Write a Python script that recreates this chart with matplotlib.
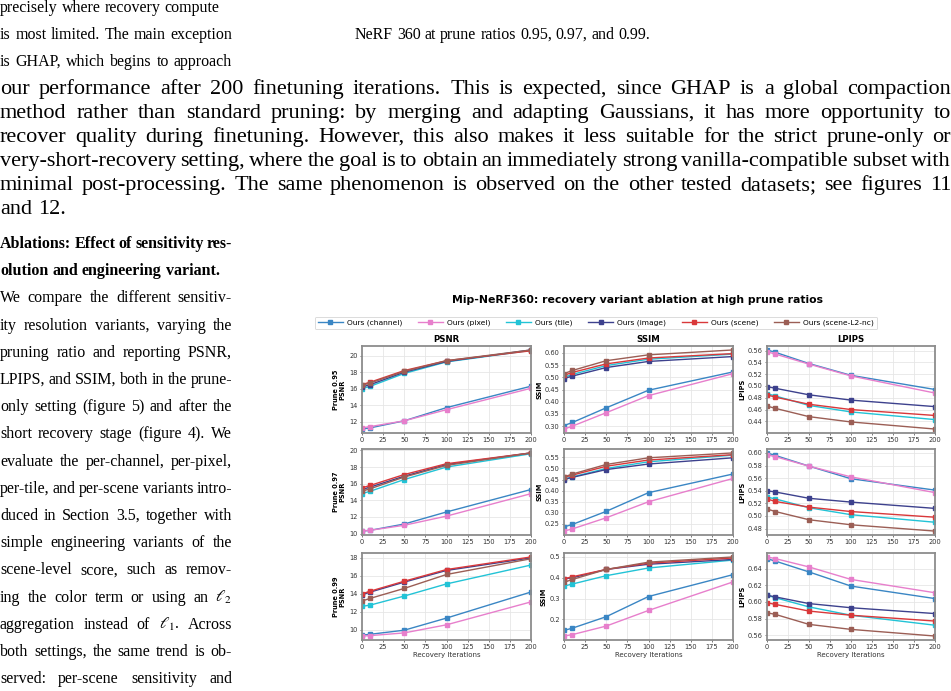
import matplotlib
matplotlib.use("Agg")
import matplotlib.pyplot as plt
from matplotlib.lines import Line2D
from matplotlib.ticker import MultipleLocator, FormatStrFormatter

W, H, DPI = 951, 691, 100

# ---------------- data ----------------
iters = [0, 10, 50, 100, 200]
variants = ["Ours (channel)", "Ours (pixel)", "Ours (tile)", "Ours (image)",
            "Ours (scene)", "Ours (scene-L2-nc)"]
prune_ratios = ["0.95", "0.97", "0.99"]
metrics = ["PSNR", "SSIM", "LPIPS"]

psnr_095 = {"Ours (channel)": [11.1, 11.25, 12.1, 13.7, 16.3],
            "Ours (pixel)": [11.25, 11.4, 12.1, 13.45, 16.05],
            "Ours (tile)": [16.0, 16.3, 17.85, 19.25, 20.65],
            "Ours (image)": [16.2, 16.5, 18.0, 19.3, 20.7],
            "Ours (scene)": [16.5, 16.8, 18.2, 19.4, 20.6],
            "Ours (scene-L2-nc)": [16.4, 16.7, 18.1, 19.4, 20.7]}
ssim_095 = {"Ours (channel)": [0.302, 0.315, 0.375, 0.447, 0.522],
            "Ours (pixel)": [0.288, 0.300, 0.355, 0.425, 0.515],
            "Ours (tile)": [0.500, 0.512, 0.548, 0.574, 0.595],
            "Ours (image)": [0.495, 0.505, 0.540, 0.565, 0.585],
            "Ours (scene)": [0.508, 0.520, 0.555, 0.579, 0.597],
            "Ours (scene-L2-nc)": [0.515, 0.528, 0.568, 0.592, 0.612]}
lpips_095 = {"Ours (channel)": [0.561, 0.557, 0.538, 0.518, 0.494],
             "Ours (pixel)": [0.558, 0.554, 0.537, 0.517, 0.488],
             "Ours (tile)": [0.487, 0.483, 0.467, 0.456, 0.443],
             "Ours (image)": [0.499, 0.496, 0.485, 0.476, 0.465],
             "Ours (scene)": [0.485, 0.481, 0.469, 0.460, 0.450],
             "Ours (scene-L2-nc)": [0.466, 0.462, 0.448, 0.439, 0.427]}

psnr_097 = {"Ours (channel)": [10.3, 10.4, 11.15, 12.6, 15.3],
            "Ours (pixel)": [10.3, 10.4, 11.0, 12.1, 14.8],
            "Ours (tile)": [14.8, 15.1, 16.5, 18.0, 19.6],
            "Ours (image)": [15.3, 15.6, 16.9, 18.3, 19.7],
            "Ours (scene)": [15.5, 15.8, 17.1, 18.4, 19.7],
            "Ours (scene-L2-nc)": [15.1, 15.4, 16.8, 18.2, 19.7]}
ssim_097 = {"Ours (channel)": [0.237, 0.248, 0.307, 0.391, 0.475],
            "Ours (pixel)": [0.218, 0.228, 0.278, 0.350, 0.455],
            "Ours (tile)": [0.452, 0.462, 0.500, 0.530, 0.560],
            "Ours (image)": [0.450, 0.460, 0.495, 0.520, 0.548],
            "Ours (scene)": [0.460, 0.470, 0.510, 0.538, 0.562],
            "Ours (scene-L2-nc)": [0.462, 0.475, 0.518, 0.548, 0.570]}
lpips_097 = {"Ours (channel)": [0.600, 0.596, 0.579, 0.559, 0.541],
             "Ours (pixel)": [0.597, 0.594, 0.579, 0.562, 0.537],
             "Ours (tile)": [0.530, 0.527, 0.513, 0.502, 0.490],
             "Ours (image)": [0.540, 0.538, 0.528, 0.522, 0.512],
             "Ours (scene)": [0.527, 0.523, 0.514, 0.507, 0.498],
             "Ours (scene-L2-nc)": [0.511, 0.507, 0.494, 0.486, 0.476]}

psnr_099 = {"Ours (channel)": [9.4, 9.5, 9.95, 11.3, 14.2],
            "Ours (pixel)": [9.3, 9.35, 9.65, 10.55, 13.1],
            "Ours (tile)": [12.6, 12.75, 13.75, 15.1, 17.2],
            "Ours (image)": [13.9, 14.2, 15.3, 16.6, 18.0],
            "Ours (scene)": [14.0, 14.3, 15.4, 16.7, 18.1],
            "Ours (scene-L2-nc)": [13.2, 13.5, 14.6, 16.15, 17.9]}
ssim_099 = {"Ours (channel)": [0.147, 0.158, 0.213, 0.310, 0.415],
            "Ours (pixel)": [0.120, 0.127, 0.168, 0.243, 0.380],
            "Ours (tile)": [0.360, 0.370, 0.410, 0.447, 0.485],
            "Ours (image)": [0.395, 0.400, 0.440, 0.465, 0.488],
            "Ours (scene)": [0.395, 0.405, 0.440, 0.470, 0.495],
            "Ours (scene-L2-nc)": [0.378, 0.392, 0.440, 0.475, 0.500]}
lpips_099 = {"Ours (channel)": [0.652, 0.649, 0.636, 0.619, 0.604],
             "Ours (pixel)": [0.654, 0.652, 0.642, 0.627, 0.611],
             "Ours (tile)": [0.608, 0.605, 0.594, 0.584, 0.572],
             "Ours (image)": [0.608, 0.606, 0.598, 0.593, 0.586],
             "Ours (scene)": [0.599, 0.597, 0.589, 0.584, 0.577],
             "Ours (scene-L2-nc)": [0.587, 0.585, 0.573, 0.567, 0.559]}

panels = [[psnr_095, ssim_095, lpips_095],
          [psnr_097, ssim_097, lpips_097],
          [psnr_099, ssim_099, lpips_099]]

suptitle = "Mip-NeRF360: recovery variant ablation at high prune ratios"

top_left_lines = ["precisely where recovery compute",
                  "is most limited. The main exception",
                  "is GHAP, which begins to approach"]
caption_line = "NeRF 360 at prune ratios 0.95, 0.97, and 0.99."
full_lines = [
    "our performance after 200 finetuning iterations. This is expected, since GHAP is a global compaction",
    "method rather than standard pruning: by merging and adapting Gaussians, it has more opportunity to",
    "recover quality during finetuning. However, this also makes it less suitable for the strict prune-only or",
    "very-short-recovery setting, where the goal is to obtain an immediately strong vanilla-compatible subset with",
    "minimal post-processing. The same phenomenon is observed on the other tested datasets; see figures 11",
    "and 12.",
]
col_lines = [
    "Ablations: Effect of sensitivity res-",
    "olution and engineering variant.",
    "We compare the different sensitiv-",
    "ity resolution variants, varying the",
    "pruning ratio and reporting PSNR,",
    "LPIPS, and SSIM, both in the prune-",
    "only setting (figure 5) and after the",
    "short recovery stage (figure 4). We",
    "evaluate the per-channel, per-pixel,",
    "per-tile, and per-scene variants intro-",
    "duced in Section 3.5, together with",
    "simple engineering variants of the",
    "scene-level score, such as remov-",
    r"ing the color term or using an $\ell_2$",
    r"aggregation instead of $\ell_1$. Across",
    "both settings, the same trend is ob-",
    "served: per-scene sensitivity and",
]

# ---------------- style ----------------
colors = {"Ours (channel)": "#3a86c4", "Ours (pixel)": "#e77fcc",
          "Ours (tile)": "#22c3d6", "Ours (image)": "#3d418d",
          "Ours (scene)": "#d9383a", "Ours (scene-L2-nc)": "#9b5e55"}
plt.rcParams["mathtext.fontset"] = "stix"
SERIF = "Liberation Serif"

fig = plt.figure(figsize=(W / DPI, H / DPI), dpi=DPI)
fig.patch.set_facecolor("white")
renderer = fig.canvas.get_renderer()


def fy(y):
    return 1 - y / H


def twidth(s, **kw):
    t = fig.text(0, 0, s, **kw)
    w = t.get_window_extent(renderer).width
    t.remove()
    return w


def put_line(line, x0, x1, ybase, justify=True, **kw):
    words = line.split(" ")
    widths = [twidth(w, **kw) for w in words]
    space = twidth("a a", **kw) - twidth("aa", **kw)
    if justify and len(words) > 1:
        gap = (x1 - x0 - sum(widths)) / (len(words) - 1)
    else:
        gap = space
    x = x0
    for w, wd in zip(words, widths):
        fig.text(x / W, fy(ybase), w, ha="left", va="baseline", **kw)
        x += wd + gap


def fit_size(lines, width, shrink=0.6, weight="normal"):
    sp = twidth("a a", fontsize=10, family=SERIF) - twidth("aa", fontsize=10, family=SERIF)
    best = 0
    for l in lines:
        words = l.split(" ")
        w = sum(twidth(x, fontsize=10, family=SERIF, weight=weight) for x in words)
        w += shrink * sp * (len(words) - 1)
        best = max(best, w)
    return 10 * width / best


full_size = fit_size(full_lines[:-1], 951, 0.7)
col_size = fit_size(col_lines[2:], 232, 0.7)

# top-left lines (wrapped column) and caption
for i, l in enumerate(top_left_lines):
    put_line(l, 0, 232, 12 + i * 27.0, justify=(i > 0), fontsize=col_size, family=SERIF)
put_line(caption_line, 355, 640, 12 + 27.0, justify=False, fontsize=col_size, family=SERIF)

for i, l in enumerate(full_lines):
    put_line(l, 0, 951, 94 + i * 24.0, justify=(i < len(full_lines) - 1),
             fontsize=full_size, family=SERIF)

CL = 27.2
for i, l in enumerate(col_lines):
    bold = i < 2
    put_line(l, 0, 232, 248 + i * CL, justify=(i != 1), fontsize=col_size,
             family=SERIF, weight="bold" if bold else "normal")

# ---------------- chart ----------------
col_x = [(362, 531), (564, 733), (767, 935)]
row_y = [(346, 433), (449, 535), (553, 640)]
ystep = [[2, 0.05, 0.02], [2, 0.05, 0.02], [2, 0.1, 0.02]]
yfmt = [["%d", "%.2f", "%.2f"], ["%d", "%.2f", "%.2f"], ["%d", "%.1f", "%.2f"]]

fig.text(637 / W, fy(300), suptitle, ha="center", va="center", fontsize=7.8,
         weight="bold", family="DejaVu Sans")

for r in range(3):
    for c in range(3):
        x0, x1 = col_x[c]
        y0, y1 = row_y[r]
        ax = fig.add_axes([x0 / W, fy(y1), (x1 - x0) / W, (y1 - y0) / H])
        data = panels[r][c]
        for v in variants:
            ax.plot(iters, data[v], color=colors[v], lw=1.0, marker="s",
                    markersize=2.4, label=v)
        ax.set_xlim(0, 200)
        ax.xaxis.set_major_locator(MultipleLocator(25))
        ax.yaxis.set_major_locator(MultipleLocator(ystep[r][c]))
        ax.yaxis.set_major_formatter(FormatStrFormatter(yfmt[r][c]))
        ax.grid(True, color="#e6e6e6", lw=0.6)
        ax.set_axisbelow(True)
        for s in ax.spines.values():
            s.set_color("#8c8c8c")
            s.set_linewidth(1.3)
        ax.tick_params(labelsize=4.8, length=1.5, width=0.5, pad=1.5,
                       colors="#444444", labelcolor="#333333")
        if r == 0:
            ax.set_title(metrics[c], fontsize=6.2, weight="bold", pad=3)
        if c == 0:
            ax.set_ylabel("Prune " + prune_ratios[r] + "\nPSNR", fontsize=4.8,
                          weight="bold", labelpad=3, linespacing=1.0)
        else:
            ax.set_ylabel(metrics[c], fontsize=4.8, weight="bold", labelpad=2)
        if r == 2:
            ax.set_xlabel("Recovery Iterations", fontsize=5, labelpad=1.5,
                          color="#333333")

handles = [Line2D([], [], color=colors[v], lw=1.0, marker="s", markersize=2.6)
           for v in variants]
leg = fig.legend(handles, variants, ncol=6, loc="center",
                 bbox_to_anchor=(596 / W, fy(323)), fontsize=5.4,
                 frameon=True, handlelength=3.3, columnspacing=2.05,
                 handletextpad=0.6, borderpad=0.4, fancybox=True)
leg.get_frame().set_edgecolor("#cccccc")
leg.get_frame().set_linewidth(0.6)

fig.savefig("out.png", dpi=DPI, facecolor="white")
